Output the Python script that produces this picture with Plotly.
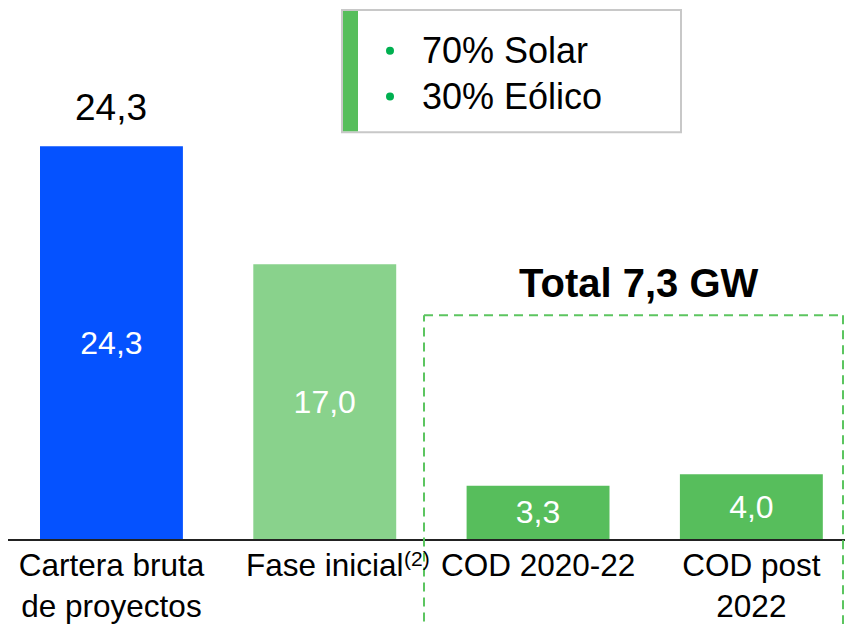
import plotly.graph_objects as go

categories = ["Cartera bruta<br>de proyectos", "Fase inicial", "COD 2020-22", "COD post<br>2022"]
footnotes = ["", "(2)", "", ""]
values = [24.3, 17.0, 3.3, 4.0]
bar_colors = ["#0552FF", "#89D28C", "#57BE5C", "#57BE5C"]
legend_items = ["70% Solar", "30% Eólico"]
total_label = "Total 7,3 GW"

FONT = "Arial, Liberation Sans, sans-serif"
# the page places the figure at an 8px offset on each side
OFF = 8
W, H = 853 - 2 * OFF, 632 - 2 * OFF
ML, MR, MT, MB = 0, 0, 2, 82
PW, PH = W - ML - MR, H - MT - MB


def xp(px):  # reference-image x -> paper
    return (px - OFF - ML) / PW


def yp(py):  # reference-image y -> paper
    return (H - MB - (py - OFF)) / PH


def fmt(v):
    return f"{v:.1f}".replace(".", ",")


xs = list(range(len(categories)))
fig = go.Figure()
fig.add_trace(go.Bar(
    x=xs, y=values,
    marker=dict(color=bar_colors, line=dict(width=0)),
    width=0.67,
    text=[fmt(v) for v in values],
    textposition="inside", insidetextanchor="middle",
    textfont=dict(color="white", size=32, family=FONT),
    cliponaxis=False,
    hoverinfo="skip",
))

# value label above the first bar
fig.add_annotation(x=xs[0], y=values[0], text=fmt(values[0]), showarrow=False,
                   yanchor="middle", yshift=39,
                   font=dict(size=37, color="black", family=FONT))

# footnote marker next to a category label
for x, fn in zip(xs, footnotes):
    if fn:
        fig.add_annotation(x=x, y=0, text=fn, showarrow=False, xanchor="left", yanchor="middle",
                           xshift=77, yshift=-19,
                           font=dict(size=21, color="black", family=FONT))

# dashed box around the group (left, top, right edges)
dash_line = dict(color="#5CC560", width=2, dash="9px,6px")
for (x0, y0, x1, y1) in [(424, 640, 424, 317), (424, 317, 843, 317), (843, 317, 843, 640)]:
    fig.add_shape(type="line", xref="paper", yref="paper",
                  x0=xp(x0), x1=xp(x1), y0=yp(y0), y1=yp(y1),
                  line=dash_line, layer="above")
fig.add_annotation(xref="paper", yref="paper", x=xp(639), y=yp(285),
                   text="<b>" + total_label + "</b>", showarrow=False,
                   xanchor="center", yanchor="middle",
                   font=dict(size=40, color="black", family=FONT))

# legend box
fig.add_shape(type="rect", xref="paper", yref="paper",
              x0=xp(342), x1=xp(681), y0=yp(133), y1=yp(10),
              line=dict(color="#C8C8C8", width=2), fillcolor="white", layer="above")
fig.add_shape(type="rect", xref="paper", yref="paper",
              x0=xp(343), x1=xp(358), y0=yp(132), y1=yp(11),
              line=dict(width=0), fillcolor="#57BE5C", layer="above")
for i, item in enumerate(legend_items):
    cy = 51 + 46 * i
    fig.add_shape(type="circle", xref="paper", yref="paper",
                  x0=xp(386), x1=xp(394), y0=yp(cy + 4), y1=yp(cy - 4),
                  line=dict(width=0), fillcolor="#00B050", layer="above")
    fig.add_annotation(xref="paper", yref="paper", x=xp(420), y=yp(cy),
                       text=item, showarrow=False, xanchor="left", yanchor="middle",
                       font=dict(size=36, color="black", family=FONT))

fig.update_layout(
    width=W, height=H,
    margin=dict(l=ML, r=MR, t=MT, b=MB),
    paper_bgcolor="white", plot_bgcolor="white",
    showlegend=False,
    font=dict(family=FONT, color="black"),
    xaxis=dict(range=[-0.485, 3.439], tickmode="array", tickvals=xs, ticktext=categories,
               showgrid=False, zeroline=False, showline=True, linecolor="#222222", linewidth=1.5,
               ticks="", ticklabelstandoff=-3,
               tickfont=dict(size=31.5, color="black", family=FONT)),
    yaxis=dict(range=[0, 32.73], visible=False, showgrid=False, zeroline=False),
)

fig.write_html("out.html")
